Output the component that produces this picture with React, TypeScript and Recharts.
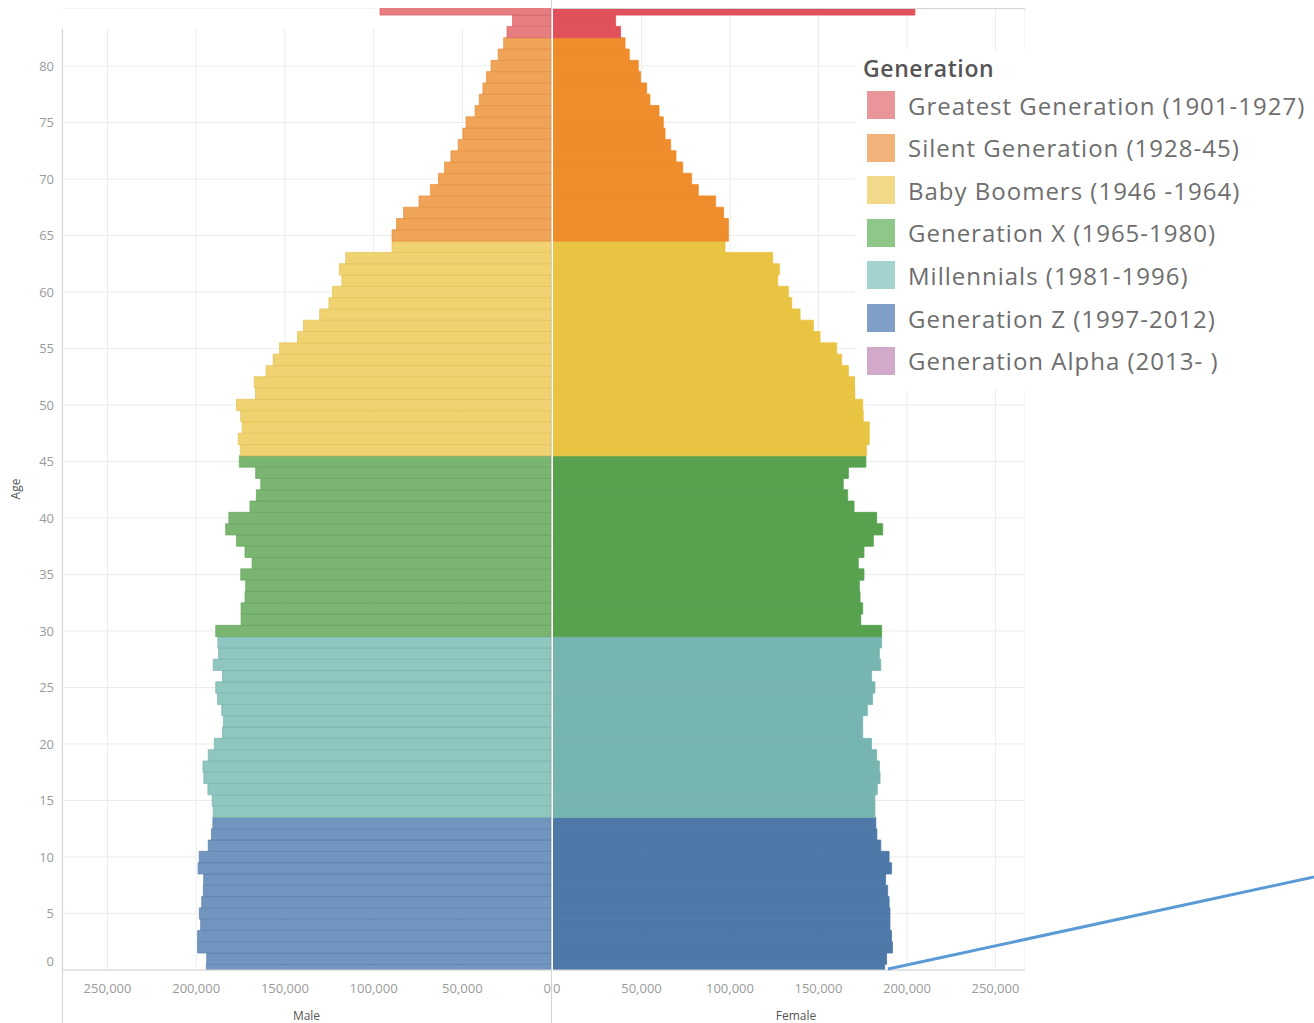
import React from "react";
import { Bar, BarChart, CartesianGrid, Cell, XAxis, YAxis } from "recharts";

// single years of age, 0 .. 85 (85 = 85+)
const ages = Array.from({ length: 86 }, (_, i) => i);

const maleValues = [
  194300, 194100, 199200, 199200, 197500, 198200, 196900, 196000, 195800, 198900,
  198300, 193200, 191400, 190600, 190400, 191000, 193400, 195700, 196200, 193200,
  189800, 185200, 184600, 185600, 188000, 189000, 185200, 190400, 187400, 187800,
  189000, 174700, 174700, 172500, 172100, 174900, 168500, 172500, 177300, 183400,
  181600, 169700, 166100, 163600, 166500, 175700, 175100, 176300, 174100, 174900,
  177300, 166600, 167300, 160600, 156600, 153000, 142900, 139500, 130400, 125200,
  123200, 117900, 119300, 115700, 89600, 89600, 87100, 83100, 74400, 68000,
  63400, 60000, 56400, 52300, 49700, 47900, 42800, 40400, 38400, 36400,
  33800, 29800, 26700, 24800, 21700, 96400,
];

const femaleValues = [
  187400, 188500, 191800, 191300, 190400, 190400, 189900, 189100, 187900, 191300,
  189900, 185200, 183000, 182400, 181900, 181900, 183200, 184800, 184400, 182900,
  180000, 175000, 175000, 177600, 180600, 181900, 180000, 185200, 184400, 185700,
  185700, 173900, 175000, 173500, 173100, 175700, 172500, 175700, 181000, 186300,
  182900, 170100, 166500, 164000, 166900, 176800, 177200, 178700, 178700, 175300,
  175000, 170600, 170600, 166900, 163100, 160300, 150900, 147100, 139600, 134900,
  133000, 127000, 127900, 124100, 97200, 99100, 99100, 96400, 91900, 82100,
  78300, 73300, 69500, 66500, 63300, 62300, 59900, 54800, 52900, 49500,
  48200, 43100, 40700, 38200, 35400, 204500,
];

const generationNames = [
  "Greatest Generation (1901-1927)",
  "Silent Generation (1928-45)",
  "Baby Boomers (1946 -1964)",
  "Generation X (1965-1980)",
  "Millennials (1981-1996)",
  "Generation Z (1997-2012)",
  "Generation Alpha (2013- )",
];
// youngest age that belongs to each generation (Alpha not in the data)
const generationFirstAge = [83, 65, 46, 30, 14, 0, -1];

const legendColors = ["#e9959a", "#f2b37b", "#f2d98a", "#8ec788", "#a4d3cf", "#7f9fc8", "#d3a9c9"];
const maleColors = ["#e77c81", "#f0a457", "#f0d370", "#7bb572", "#8fc6c0", "#7195be", "#d3a9c9"];
const maleEdge = ["#d9646a", "#e5913f", "#e3c258", "#66a55d", "#78b3ad", "#5b80ab", "#c090b5"];
const femaleColors = ["#e1515b", "#ef8c2b", "#e9c443", "#57a14f", "#77b5b0", "#4d78a8", "#b07aa1"];

const ageTicks = [0, 5, 10, 15, 20, 25, 30, 35, 40, 45, 50, 55, 60, 65, 70, 75, 80];
const popTicks = [0, 50000, 100000, 150000, 200000, 250000];

const genOf = (age: number) => generationFirstAge.findIndex((a) => a >= 0 && age >= a);

const rows = ages.map((age, i) => ({
  age,
  male: maleValues[i],
  female: femaleValues[i],
  gen: genOf(age),
}));

const FONT = "'Open Sans', 'Noto Sans', sans-serif";
const GRID = "#ececec";
const BORDER = "#d4d4d4";
// one year of age is 11.3px tall; bars fill the whole row
const ROW = 11.3;

const fmt = (v: number) => v.toLocaleString("en-US");

const AgeTick = (props: any) => {
  const { x, y, payload } = props;
  // tableau nudges the bottom label up so it stays inside the pane
  const shift = payload.value === 0 ? -9 : 0;
  return (
    <text x={x} y={y + shift} dy="0.35em" textAnchor="end" fill="#9a9a9a" fontSize={13} fontFamily={FONT}>
      {payload.value}
    </text>
  );
};

const PopTick = (side: "male" | "female") => (props: any) => {
  const { x, y, payload } = props;
  let anchor: "middle" | "start" | "end" = "middle";
  if (payload.value === 0) anchor = side === "male" ? "end" : "start";
  return (
    <text x={x} y={y} dy="0.71em" textAnchor={anchor} fill="#9a9a9a" fontSize={13} fontFamily={FONT}>
      {fmt(payload.value)}
    </text>
  );
};

const AgeLabel = (props: any) => {
  const vb = props.viewBox;
  const cx = vb.x + 16;
  const cy = vb.y + vb.height / 2;
  return (
    <text x={cx} y={cy} transform={`rotate(-90 ${cx} ${cy})`} textAnchor="middle" dy="0.35em" fill="#555" fontSize={12} fontFamily={FONT}>
      Age
    </text>
  );
};

const line = (style: React.CSSProperties) => (
  <div style={{ position: "absolute", background: BORDER, ...style }} />
);

export default function App() {
  return (
    <div style={{ position: "absolute", left: 0, top: 0, width: 1314, height: 1023, overflow: "hidden", background: "#fff", fontFamily: FONT }}>
      {/* male pane */}
      <div style={{ position: "absolute", left: 0, top: 8 }}>
        <BarChart width={553} height={1015} data={rows} layout="vertical" margin={{ top: 0, right: 2, bottom: 0, left: 0 }}>
          <CartesianGrid stroke={GRID} y={21} height={941} />
          <XAxis
            type="number"
            reversed
            domain={[0, 275650]}
            allowDataOverflow
            ticks={popTicks}
            interval={0}
            tick={PopTick("male")}
            tickLine={false}
            tickMargin={8}
            axisLine={{ stroke: BORDER }}
            height={53}
            label={{ value: "Male", position: "insideBottom", offset: 3, fill: "#555", fontSize: 12, fontFamily: FONT }}
          />
          <YAxis
            type="number"
            dataKey="age"
            reversed
            domain={[0, 85.13]}
            allowDataOverflow
            ticks={ageTicks}
            interval={0}
            tick={<AgeTick />}
            tickLine={false}
            axisLine={false}
            width={62}
            label={<AgeLabel />}
          />
          <Bar dataKey="male" barSize={ROW} isAnimationActive={false}>
            {rows.map((r, i) => (
              <Cell key={`m-${i}`} fill={maleColors[r.gen]} stroke={maleEdge[r.gen]} strokeWidth={0.7} />
            ))}
          </Bar>
        </BarChart>
      </div>

      {/* female pane */}
      <div style={{ position: "absolute", left: 553, top: 8 }}>
        <BarChart width={472} height={1015} data={rows} layout="vertical" margin={{ top: 0, right: 0, bottom: 0, left: 0 }}>
          <CartesianGrid stroke={GRID} />
          <XAxis
            type="number"
            domain={[0, 266700]}
            allowDataOverflow
            ticks={popTicks}
            interval={0}
            tick={PopTick("female")}
            tickLine={false}
            tickMargin={8}
            axisLine={{ stroke: BORDER }}
            height={53}
            label={{ value: "Female", position: "insideBottom", offset: 3, dx: 7, fill: "#555", fontSize: 12, fontFamily: FONT }}
          />
          <YAxis type="number" dataKey="age" reversed domain={[0, 85.13]} allowDataOverflow ticks={ageTicks} hide />
          <Bar dataKey="female" barSize={ROW} isAnimationActive={false}>
            {rows.map((r, i) => (
              <Cell key={`f-${i}`} fill={femaleColors[r.gen]} stroke={femaleColors[r.gen]} strokeWidth={0.8} />
            ))}
          </Bar>
        </BarChart>
      </div>

      {/* pane borders */}
      {line({ left: 62, top: 29, width: 1, height: 994 })}
      {line({ left: 551, top: 0, width: 1, height: 1023 })}
      {line({ left: 553, top: 8, width: 472, height: 1 })}

      {/* legend */}
      <div style={{ position: "absolute", left: 855, top: 50, width: 459, height: 340, background: "#fff" }}>
        <div style={{ position: "absolute", left: 8, top: 2, fontSize: 23, fontWeight: 600, letterSpacing: 0.6, color: "#555" }}>Generation</div>
        {generationNames.map((name, i) => (
          <div key={name} style={{ position: "absolute", left: 12, top: 41 + i * 42.6, height: 28, display: "flex", alignItems: "center" }}>
            <div style={{ width: 28, height: 28, background: legendColors[i] }} />
            <div style={{ marginLeft: 13, fontSize: 24, letterSpacing: 1, color: "#6e6e6e", whiteSpace: "nowrap" }}>{name}</div>
          </div>
        ))}
      </div>

      {/* annotation stroke drawn on the screenshot */}
      <svg style={{ position: "absolute", left: 0, top: 0 }} width={1314} height={1023} pointerEvents="none">
        <line x1={888} y1={969} x2={1314} y2={877} stroke="#5b9bd5" strokeWidth={3} />
      </svg>
    </div>
  );
}
